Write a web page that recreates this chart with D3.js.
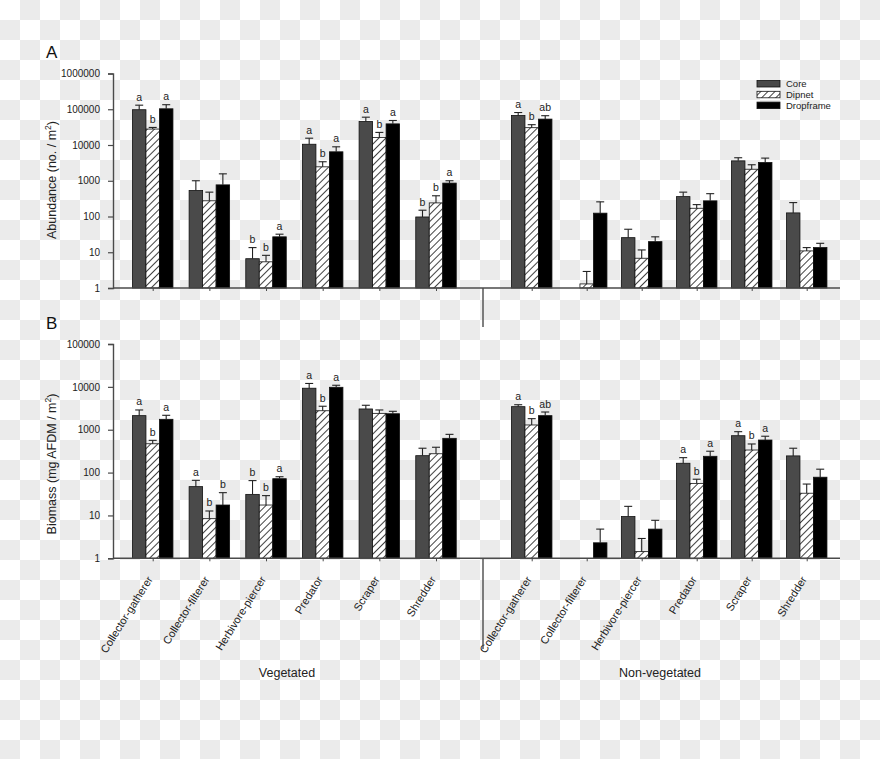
<!DOCTYPE html>
<html>
<head>
<meta charset="utf-8">
<script src="https://cdn.jsdelivr.net/npm/d3@7/dist/d3.min.js"></script>
<style>
html,body{margin:0;padding:0;background:#fff;}
svg{display:block;}
text{font-family:"Liberation Sans",Arial,Helvetica,sans-serif;}
</style>
</head>
<body>
<svg id="chart" width="880" height="759"></svg>
<script>
// ---------- data ----------
const categories = ["Collector-gatherer","Collector-filterer","Herbivore-piercer","Predator","Scraper","Shredder"];
const habitats = ["Vegetated","Non-vegetated"];
const methods = ["Core","Dipnet","Dropframe"];

// Panel A: abundance (no./m2), bar value and top of error bar
const abVegCore     = [97000, 535, 6.6, 10500, 45500, 97];
const abVegCoreErr  = [130000, 1000, 13.5, 15500, 60000, 150];
const abVegDip      = [27900, 275, 5.4, 2450, 16200, 240];
const abVegDipErr   = [31000, 480, 8.2, 3400, 22500, 380];
const abVegDrop     = [103000, 767, 27, 6450, 39000, 860];
const abVegDropErr  = [134000, 1560, 32, 8900, 48500, 1000];
const abNonCore     = [67000, null, 25.6, 360, 3600, 126];
const abNonCoreErr  = [81000, null, 44, 480, 4400, 245];
const abNonDip      = [30500, 1.3, 6.8, 170, 2100, 10.9];
const abNonDipErr   = [37000, 2.9, 11.6, 215, 2800, 13.5];
const abNonDrop     = [53000, 124, 19.8, 274, 3240, 13.5];
const abNonDropErr  = [66000, 257, 27, 435, 4300, 17.8];
const abVegCoreLet  = ["a","","b","a","a","b"];
const abVegDipLet   = ["b","","b","b","b","b"];
const abVegDropLet  = ["a","","a","a","a","a"];
const abNonCoreLet  = ["a","","","","",""];
const abNonDipLet   = ["b","","","","",""];
const abNonDropLet  = ["ab","","","","",""];
const abTicks = [1,10,100,1000,10000,100000,1000000];

// Panel B: biomass (mg AFDM/m2)
const bmVegCore     = [2130, 47, 31, 9300, 3050, 248];
const bmVegCoreErr  = [2890, 66, 65, 12000, 3720, 370];
const bmVegDip      = [470, 8.4, 17.5, 2770, 2410, 275];
const bmVegDipErr   = [565, 12.7, 29, 3530, 2890, 390];
const bmVegDrop     = [1750, 17.5, 72, 9770, 2360, 630];
const bmVegDropErr  = [2170, 34, 80, 10900, 2690, 780];
const bmNonCore     = [3450, null, 9.4, 165, 725, 245];
const bmNonCoreErr  = [3830, null, 16.3, 223, 900, 370];
const bmNonDip      = [1290, null, 1.43, 56, 336, 33];
const bmNonDipErr   = [1810, null, 2.9, 70, 465, 54];
const bmNonDrop     = [2130, 2.3, 4.8, 240, 575, 78];
const bmNonDropErr  = [2590, 4.8, 7.7, 315, 705, 120];
const bmVegCoreLet  = ["a","a","b","a","",""];
const bmVegDipLet   = ["b","b","b","b","",""];
const bmVegDropLet  = ["a","b","a","a","",""];
const bmNonCoreLet  = ["a","","","a","a",""];
const bmNonDipLet   = ["b","","","b","b",""];
const bmNonDropLet  = ["ab","","","a","a",""];
const bmTicks = [1,10,100,1000,10000,100000];

// ---------- drawing ----------
const svg = d3.select("#chart");
const W = 880, H = 759;
const defs = svg.append("defs");

// transparent-style checkerboard background
const chk = defs.append("pattern").attr("id","chk").attr("patternUnits","userSpaceOnUse")
  .attr("width",40).attr("height",40);
chk.append("rect").attr("width",40).attr("height",40).attr("fill","#ffffff");
chk.append("rect").attr("x",20).attr("y",0).attr("width",20).attr("height",20).attr("fill","#ebebeb");
chk.append("rect").attr("x",0).attr("y",20).attr("width",20).attr("height",20).attr("fill","#ebebeb");
svg.append("rect").attr("width",W).attr("height",H).attr("fill","url(#chk)");

// hatch pattern
const hatch = defs.append("pattern").attr("id","hatch").attr("patternUnits","userSpaceOnUse")
  .attr("width",5).attr("height",5).attr("patternTransform","rotate(45)");
hatch.append("rect").attr("width",5).attr("height",5).attr("fill","#fff");
hatch.append("line").attr("x1",0).attr("y1",0).attr("x2",0).attr("y2",5)
  .attr("stroke","#111").attr("stroke-width",1.6);

const fills = {"Core":"#4a4a4a","Dipnet":"url(#hatch)","Dropframe":"#000"};
const axisColor = "#4a4a4a";

const xLeft = d3.scalePoint().domain(categories).range([152.7, 436]);
const xRight = d3.scalePoint().domain(categories).range([531.7, 806.7]);
const xHab = {"Vegetated": xLeft, "Non-vegetated": xRight};
const xMethod = d3.scaleBand().domain(methods).range([-20.25, 20.25]).padding(0);

function drawPanel(cfg){
  const g = svg.append("g");
  const y = d3.scaleLog().domain(cfg.domain).range(cfg.range);
  const y0 = cfg.range[0];

  // bars
  habitats.forEach(h => {
    methods.forEach(m => {
      const vals = cfg.vals[h][m], errs = cfg.errs[h][m], lets = cfg.lets[h][m];
      categories.forEach((c,i) => {
        const v = vals[i];
        if (v == null) return;
        const cx = xHab[h](c) + xMethod(m);
        const bw = xMethod.bandwidth();
        g.append("rect").attr("x",cx).attr("y",y(v)).attr("width",bw).attr("height",y0 - y(v))
          .attr("fill",fills[m]).attr("stroke","#111").attr("stroke-width",0.8);
        const e = errs[i];
        const mx = cx + bw/2;
        if (e != null){
          g.append("line").attr("x1",mx).attr("x2",mx).attr("y1",y(v)).attr("y2",y(e))
            .attr("stroke","#222").attr("stroke-width",1.1);
          g.append("line").attr("x1",mx-4).attr("x2",mx+4).attr("y1",y(e)).attr("y2",y(e))
            .attr("stroke","#222").attr("stroke-width",1.1);
        }
        if (lets[i]){
          g.append("text").attr("x",mx).attr("y",y(e != null ? e : v) - 4.5)
            .attr("text-anchor","middle").attr("font-size",10.5).attr("fill","#222").text(lets[i]);
        }
      });
    });
  });

  // y axis
  const yAxis = d3.axisLeft(y).tickValues(cfg.ticks).tickFormat(d3.format("d")).tickSize(5).tickPadding(8);
  const ya = g.append("g").attr("transform","translate(113,0)").call(yAxis);
  ya.select(".domain").attr("stroke",axisColor).attr("stroke-width",1.4);
  ya.selectAll(".tick line").attr("stroke",axisColor).attr("stroke-width",1.2);
  ya.selectAll(".tick text").attr("font-size",10).attr("fill","#222")
    .style("font-family","'Liberation Sans',Arial,sans-serif");

  // x axis
  habitats.forEach((h,hi) => {
    const xa = d3.axisBottom(xHab[h]).tickSize(3).tickFormat(cfg.labels ? (d=>d) : (()=>""));
    const gx = g.append("g").attr("transform",`translate(0,${y0})`).call(xa);
    gx.select(".domain").remove();
    gx.selectAll(".tick line").attr("stroke",axisColor);
    if (cfg.labels){
      gx.selectAll(".tick text").attr("font-size",11).attr("fill","#222")
        .style("font-family","'Liberation Sans',Arial,sans-serif")
        .attr("text-anchor","end").attr("dy",0).attr("y",0)
        .attr("transform","translate(0,21) rotate(-58)");
    }
  });
  g.append("line").attr("x1",113).attr("x2",840).attr("y1",y0).attr("y2",y0)
    .attr("stroke",axisColor).attr("stroke-width",1.4);
  g.append("line").attr("x1",483).attr("x2",483).attr("y1",y0).attr("y2",cfg.sepEnd)
    .attr("stroke",axisColor).attr("stroke-width",1.4);

  // y title
  const t = g.append("text").attr("transform",`translate(56,${cfg.titleY}) rotate(-90)`)
    .attr("text-anchor","middle").attr("font-size",12.5).attr("fill","#222");
  t.append("tspan").text(cfg.title);
  t.append("tspan").attr("font-size",8.5).attr("dy",-5).text("2");
  t.append("tspan").attr("dy",5).text(")");

  // panel letter
  g.append("text").attr("x",46).attr("y",cfg.letterY).attr("font-size",17).attr("fill","#111").text(cfg.letter);
}

drawPanel({
  domain:[1,1e6], range:[288,73.5], ticks:abTicks, sepEnd:327, labels:false,
  title:"Abundance (no. / m", titleY:180, letter:"A", letterY:58,
  vals:{"Vegetated":{"Core":abVegCore,"Dipnet":abVegDip,"Dropframe":abVegDrop},
        "Non-vegetated":{"Core":abNonCore,"Dipnet":abNonDip,"Dropframe":abNonDrop}},
  errs:{"Vegetated":{"Core":abVegCoreErr,"Dipnet":abVegDipErr,"Dropframe":abVegDropErr},
        "Non-vegetated":{"Core":abNonCoreErr,"Dipnet":abNonDipErr,"Dropframe":abNonDropErr}},
  lets:{"Vegetated":{"Core":abVegCoreLet,"Dipnet":abVegDipLet,"Dropframe":abVegDropLet},
        "Non-vegetated":{"Core":abNonCoreLet,"Dipnet":abNonDipLet,"Dropframe":abNonDropLet}}
});
drawPanel({
  domain:[1,1e5], range:[558.3,344], ticks:bmTicks, sepEnd:649, labels:true,
  title:"Biomass (mg AFDM / m", titleY:464, letter:"B", letterY:329,
  vals:{"Vegetated":{"Core":bmVegCore,"Dipnet":bmVegDip,"Dropframe":bmVegDrop},
        "Non-vegetated":{"Core":bmNonCore,"Dipnet":bmNonDip,"Dropframe":bmNonDrop}},
  errs:{"Vegetated":{"Core":bmVegCoreErr,"Dipnet":bmVegDipErr,"Dropframe":bmVegDropErr},
        "Non-vegetated":{"Core":bmNonCoreErr,"Dipnet":bmNonDipErr,"Dropframe":bmNonDropErr}},
  lets:{"Vegetated":{"Core":bmVegCoreLet,"Dipnet":bmVegDipLet,"Dropframe":bmVegDropLet},
        "Non-vegetated":{"Core":bmNonCoreLet,"Dipnet":bmNonDipLet,"Dropframe":bmNonDropLet}}
});

// habitat labels
svg.append("text").attr("x",287).attr("y",677).attr("text-anchor","middle").attr("font-size",12.5)
  .attr("fill","#222").text(habitats[0]);
svg.append("text").attr("x",660).attr("y",677).attr("text-anchor","middle").attr("font-size",12.5)
  .attr("fill","#222").text(habitats[1]);

// legend
const leg = svg.append("g").attr("transform","translate(757,80.5)");
methods.forEach((m,i) => {
  leg.append("rect").attr("x",0).attr("y",i*10.8).attr("width",23).attr("height",6.5)
    .attr("fill",fills[m]).attr("stroke","#111").attr("stroke-width",0.8);
  leg.append("text").attr("x",29).attr("y",i*10.8+6.8).attr("font-size",9.5).attr("fill","#222").text(m);
});
</script>
</body>
</html>
